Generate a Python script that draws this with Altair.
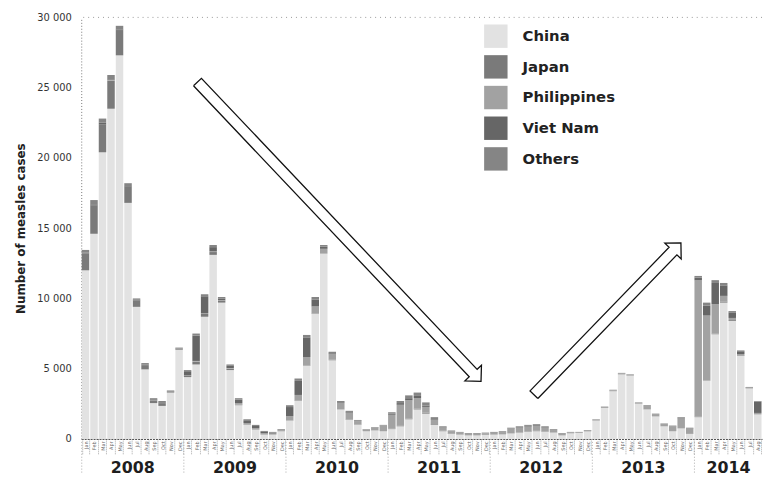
import altair as alt
import pandas as pd

# ---------------- data (cases per month, Jan 2008 - Aug 2014) ----------------
MONTH_NAMES = ["Jan", "Feb", "Mar", "Apr", "May", "Jun",
               "Jul", "Aug", "Sep", "Oct", "Nov", "Dec"]
YEARS = ["2008", "2009", "2010", "2011", "2012", "2013", "2014"]
months = [f"{y}-{m:02d}" for y in YEARS for m in range(1, 13)][:80]

COUNTRIES = ["China", "Japan", "Philippines", "Viet Nam", "Others"]
COLORS = ["#e2e2e2", "#7a7a7a", "#a2a2a2", "#666666", "#858585"]

china = [12000, 14600, 20400, 23500, 27300, 16800, 9400, 4950, 2550, 2350, 3300, 6350,
         4400, 5300, 8700, 13100, 9700, 4900, 2400, 1000, 650, 300, 300, 550,
         1300, 2700, 5200, 8900, 13200, 5600, 2100, 1350, 1000, 550, 600, 550,
         700, 900, 1400, 2100, 1800, 1000, 550, 350, 300, 250, 250, 280,
         300, 320, 400, 450, 500, 550, 500, 450, 250, 400, 420, 550,
         1300, 2200, 3400, 4600, 4500, 2500, 2100, 1600, 900, 550, 750, 350,
         1550, 4150, 7450, 9700, 8400, 5900, 3600, 1750]
japan = [1200, 2000, 2000, 2000, 1800, 1150, 450, 300, 200, 200, 80, 80,
         100, 200, 200, 200, 150, 100, 50, 30, 20, 20, 20, 20,
         20, 30, 30, 30, 30, 30, 20, 20, 20, 10, 10, 10,
         20, 30, 50, 60, 80, 50, 30, 20, 20, 10, 10, 10,
         10, 10, 20, 30, 30, 30, 20, 20, 10, 10, 10, 10,
         10, 10, 20, 20, 20, 20, 10, 10, 10, 10, 10, 10,
         30, 30, 50, 80, 60, 40, 20, 20]
philippines = [0, 0, 0, 50, 0, 0, 0, 0, 20, 20, 10, 10,
               20, 50, 50, 50, 30, 50, 100, 100, 100, 80, 60, 60,
               300, 400, 600, 500, 300, 400, 450, 500, 250, 100, 200, 380,
               1000, 1500, 1300, 750, 400, 300, 200, 150, 120, 100, 100, 100,
               120, 150, 300, 320, 350, 350, 280, 150, 100, 50, 40, 40,
               50, 50, 40, 40, 40, 40, 220, 140, 140, 330, 700, 380,
               9700, 4600, 2100, 400, 150, 100, 30, 80]
vietnam = [50, 100, 100, 50, 50, 50, 50, 50, 50, 50, 20, 20,
           300, 1800, 1200, 300, 120, 150, 250, 200, 150, 100, 70, 20,
           650, 1000, 1400, 500, 150, 70, 50, 50, 20, 10, 10, 20,
           80, 120, 150, 150, 100, 50, 30, 20, 10, 10, 10, 10,
           20, 20, 30, 40, 50, 50, 40, 30, 20, 10, 10, 10,
           10, 10, 10, 10, 10, 10, 20, 20, 20, 20, 40, 30,
           200, 700, 1500, 750, 400, 200, 30, 800]
others = [200, 300, 300, 300, 250, 200, 100, 100, 80, 80, 40, 40,
          80, 150, 150, 150, 100, 100, 100, 70, 80, 70, 50, 50,
          130, 170, 170, 170, 120, 100, 80, 80, 60, 30, 30, 40,
          100, 150, 200, 240, 220, 150, 90, 60, 50, 50, 50, 50,
          50, 50, 50, 60, 70, 70, 60, 50, 40, 30, 20, 20,
          30, 30, 30, 30, 30, 30, 50, 30, 30, 40, 50, 30,
          120, 220, 200, 170, 90, 60, 20, 50]

Y_TICKS = [0, 5000, 10000, 15000, 20000, 25000, 30000]

# arrow annotations: (tail month-index, tail cases) -> (tip month-index, tip cases)
ARROWS = [((13.66, 25400), (46.98, 4100)),
          ((53.2, 3150), (70.47, 13950))]

# ---------------- layout ----------------
W, H = 688, 426
FONT = "DejaVu Sans"

series = [china, japan, philippines, vietnam, others]
rows = []
for i, mo in enumerate(months):
    for k, (c, s) in enumerate(zip(COUNTRIES, series)):
        rows.append({"month": mo, "country": c, "cases": s[i], "ord": k})
df = pd.DataFrame(rows)

# year label placed at the boundary between middle months of each year
year_rows, sep_rows = [], []
for y in YEARS:
    ym = [m for m in months if m.startswith(y)]
    year_rows.append({"year": y, "month": ym[len(ym) // 2]})
    sep_rows.append({"month": ym[0]})
years_df = pd.DataFrame(year_rows)
sep_df = pd.DataFrame(sep_rows)

# arrow outlines (computed in pixel space, returned in data units)
px_m = W / 80.0
px_c = H / 30000.0


def arrow_poly(tail, tip, w=5.5, h=11.5, L=11.5):
    tx, ty = tail[0] * px_m, -tail[1] * px_c
    px, py = tip[0] * px_m, -tip[1] * px_c
    dx, dy = px - tx, py - ty
    n = (dx * dx + dy * dy) ** 0.5
    ux, uy = dx / n, dy / n
    nx, ny = -uy, ux
    bx, by = px - L * ux, py - L * uy
    pts = [(tx + w * nx, ty + w * ny), (bx + w * nx, by + w * ny),
           (bx + h * nx, by + h * ny), (px, py),
           (bx - h * nx, by - h * ny), (bx - w * nx, by - w * ny),
           (tx - w * nx, ty - w * ny), (tx + w * nx, ty + w * ny)]
    return [(x / px_m, -y / px_c) for x, y in pts]


arrow_rows = []
for a, (tail, tip) in enumerate(ARROWS):
    for k, (x, y) in enumerate(arrow_poly(tail, tip)):
        arrow_rows.append({"arrow": a, "k": k, "ax": x, "ay": y})
arrow_df = pd.DataFrame(arrow_rows)

month_expr = ("['" + "','".join(MONTH_NAMES) + "'][toNumber(substring(datum.value, 5, 7)) - 1]")

y_title = "Number of measles cases"

bars = alt.Chart(df).mark_bar().encode(
    x=alt.X("month:O", title=None,
            scale=alt.Scale(paddingInner=0.12, paddingOuter=0.06),
            axis=alt.Axis(labelExpr=month_expr, labelAngle=270, labelAlign="right",
                          labelBaseline="middle", labelFontSize=5, labelFont=FONT,
                          labelColor="#666", labelPadding=-14, labelOverlap=False,
                          tickSize=16, tickBand="extent", tickColor="#aaa",
                          tickDash=[1, 1], domainColor="#444", domainDash=[2, 1])),
    y=alt.Y("cases:Q", stack="zero", title=y_title,
            scale=alt.Scale(domain=[0, 30000], nice=False),
            axis=alt.Axis(values=Y_TICKS, ticks=False, grid=False,
                          labelExpr="replace(format(datum.value, ','), ',', ' ')",
                          labelFont=FONT, labelFontSize=10, labelColor="#333",
                          labelPadding=10, domainColor="#777", domainDash=[1, 2],
                          titleFont=FONT, titleFontSize=12, titleFontWeight="bold",
                          titleColor="#222", titleX=-54, titleY=H / 2,
                          titleAlign="center", titleBaseline="bottom")),
    color=alt.Color("country:N", scale=alt.Scale(domain=COUNTRIES, range=COLORS),
                    legend=alt.Legend(title=None, orient="none", legendX=407, legendY=7,
                                      symbolType="square", symbolSize=560,
                                      symbolStrokeWidth=0, labelFont=FONT,
                                      labelFontSize=15, labelFontWeight="bold",
                                      labelColor="#222", labelOffset=15,
                                      rowPadding=7, padding=0)),
    order=alt.Order("ord:Q", sort="ascending"),
)

top_rule = alt.Chart(pd.DataFrame({"v": [Y_TICKS[-1]]})).mark_rule(
    color="#999", strokeDash=[1, 4], strokeWidth=1).encode(
    y=alt.Y("v:Q", title=y_title))

seps = alt.Chart(sep_df).mark_rule(color="#aaa", strokeDash=[1, 2]).encode(
    x=alt.X("month:O", bandPosition=0, title=None),
    y=alt.value(H), y2=alt.value(H + 36))

year_text = alt.Chart(years_df).mark_text(
    font=FONT, fontSize=16, fontWeight="bold", color="#1e1e1e", baseline="middle").encode(
    x=alt.X("month:O", bandPosition=0, title=None),
    y=alt.value(H + 29),
    text="year:N")

inner = alt.layer(bars, top_rule, seps, year_text)

arrows = alt.Chart(arrow_df).mark_line(color="#111", strokeWidth=1.3).encode(
    x=alt.X("ax:Q", scale=alt.Scale(domain=[0, 80], nice=False, zero=False), axis=None),
    y=alt.Y("ay:Q", title=y_title, scale=alt.Scale(domain=[0, 30000], nice=False)),
    detail="arrow:N",
    order="k:Q",
)

chart = alt.layer(inner, arrows).resolve_scale(x="independent").properties(
    width=W, height=H,
    autosize=alt.AutoSizeParams(type="none"),
    padding={"left": 74, "top": 7, "right": 2, "bottom": 38},
).configure_view(stroke=None)

chart.save("out.html", embed_options={"renderer": "svg", "actions": False})
